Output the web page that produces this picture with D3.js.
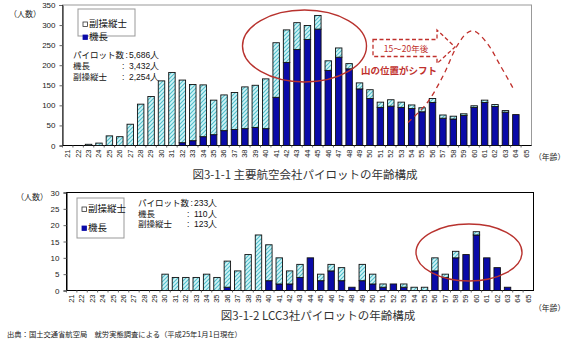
<!DOCTYPE html>
<html>
<head>
<meta charset="utf-8">
<script src="https://cdn.jsdelivr.net/npm/d3@7"></script>
<style>
    body { margin: 0; background: #fff; }
    svg { display: block; font-family: "Noto Sans CJK JP", "Liberation Sans", sans-serif; }
</style>
</head>
<body>
<svg id="chart" width="567" height="351"></svg>
<script>
// 年齢 (21〜65歳)
const ages = d3.range(21, 66);

// 図3-1-1 主要航空会社
const majorCaptain = [0, 0, 0, 0, 0, 0, 0, 0, 0, 0, 0, 7, 12, 22, 27, 37, 40, 42, 45, 42,
    120, 207, 239, 264, 290, 187, 220, 191, 141, 117, 95, 98, 95, 92, 84, 107, 68, 66, 75, 95,
    107, 97, 83, 77, 0];
const majorCopilot = [0, 0, 3, 6, 24, 22, 53, 103, 122, 161, 182, 156, 140, 129, 86, 89, 92, 104, 105, 124,
    136, 81, 67, 35, 34, 24, 23, 13, 15, 22, 13, 16, 13, 9, 10, 10, 8, 7, 4, 4,
    6, 5, 4, 0, 0];

// 図3-1-2 LCC3社
const lccCaptain = [0, 0, 0, 0, 0, 0, 0, 0, 0, 0, 0, 0, 0, 0, 0, 1, 0, 0, 0, 3,
    2, 2, 4, 10, 3, 6, 3, 1, 3, 2, 1, 2, 1, 0, 0, 6, 4, 10, 11, 17,
    10, 7, 1, 0, 0];
const lccCopilot = [0, 0, 0, 0, 0, 0, 0, 0, 0, 5, 4, 4, 4, 5, 4, 8, 6, 11, 17, 11,
    8, 4, 4, 0, 2, 2, 4, 0, 5, 3, 1, 0, 1, 1, 1, 4, 1, 2, 0, 1,
    0, 0, 0, 0, 0];

const majorStats = [["パイロット数", "5,686人"], ["機長", "3,432人"], ["副操縦士", "2,254人"]];
const lccStats = [["パイロット数", "233人"], ["機長", "110人"], ["副操縦士", "123人"]];
const legendNames = ["副操縦士", "機長"];

const svg = d3.select("#chart");
const captainColor = "#0a0aa8";
const red = "#c0302c";

// 副操縦士のハッチング
const defs = svg.append("defs");
const pat = defs.append("pattern")
    .attr("id", "hatch")
    .attr("patternUnits", "userSpaceOnUse")
    .attr("width", 4)
    .attr("height", 4);
pat.append("rect").attr("width", 4).attr("height", 4).attr("fill", "#d2f4f7");
pat.append("path")
    .attr("d", "M-1,1 L1,-1 M0,4 L4,0 M3,5 L5,3")
    .attr("stroke", "#4fbfcc")
    .attr("stroke-width", 1.1);

function drawChart(cfg) {
    const x = d3.scaleBand().domain(ages).range([cfg.left, cfg.right]).paddingInner(0.38).paddingOuter(0.19);
    const y = d3.scaleLinear().domain([0, cfg.ymax]).range([cfg.bottom, cfg.top]);
    const g = svg.append("g");

    // 枠
    g.append("rect")
        .attr("x", cfg.left).attr("y", cfg.top)
        .attr("width", cfg.right - cfg.left).attr("height", cfg.bottom - cfg.top)
        .attr("fill", "none").attr("stroke", cfg.frame).attr("stroke-width", 1);

    // 縦軸
    const yAxis = g.append("g")
        .attr("transform", "translate(" + cfg.left + ",0)")
        .call(d3.axisLeft(y).tickValues(d3.range(0, cfg.ymax + 1, cfg.step)).tickSize(3).tickPadding(4));
    yAxis.select(".domain").attr("stroke", "#000");
    yAxis.selectAll(".tick line").attr("stroke", "#666");
    yAxis.selectAll("text").attr("font-size", 8).attr("fill", "#222")
        .attr("font-family", "Liberation Sans, Arial, sans-serif");

    // 横軸
    const xAxis = g.append("g")
        .attr("transform", "translate(0," + cfg.bottom + ")")
        .call(d3.axisBottom(x).tickSize(0).tickPadding(0));
    xAxis.select(".domain").remove();
    xAxis.selectAll("text")
        .attr("font-size", 7.5).attr("fill", "#222")
        .attr("font-family", "Liberation Sans, Arial, sans-serif")
        .attr("text-anchor", "end")
        .attr("dy", "0.32em")
        .attr("transform", "translate(0,4) rotate(-90)")
        .attr("x", 0).attr("y", 0);
    g.append("line")
        .attr("x1", cfg.left).attr("x2", cfg.right)
        .attr("y1", cfg.bottom).attr("y2", cfg.bottom)
        .attr("stroke", "#000");
    g.selectAll(".xtick")
        .data(ages)
        .enter()
        .append("line")
        .attr("class", "xtick")
        .attr("x1", (d) => x(d) - x.step() * x.paddingInner() / 2)
        .attr("x2", (d) => x(d) - x.step() * x.paddingInner() / 2)
        .attr("y1", cfg.bottom).attr("y2", cfg.bottom + 2)
        .attr("stroke", "#666");

    // 積み上げ棒
    const rows = ages.map((a, i) => ({age: a, 機長: cfg.captain[i], 副操縦士: cfg.copilot[i]}));
    const stacked = d3.stack().keys(["機長", "副操縦士"])(rows);
    g.append("g")
        .selectAll("g")
        .data(stacked)
        .enter()
        .append("g")
        .attr("fill", (d) => d.key === "機長" ? captainColor : "url(#hatch)")
        .selectAll("rect")
        .data((d) => d.filter((v) => v[1] - v[0] > 0))
        .enter()
        .append("rect")
        .attr("x", (d) => x(d.data.age))
        .attr("width", x.bandwidth())
        .attr("y", (d) => y(d[1]))
        .attr("height", (d) => y(d[0]) - y(d[1]))
        .attr("stroke", "#111")
        .attr("stroke-width", 0.9);

    // 軸ラベル
    svg.append("text")
        .attr("x", cfg.yLabel[0]).attr("y", cfg.yLabel[1])
        .attr("font-size", 8).attr("fill", "#222")
        .text("（人数）");
    svg.append("text")
        .attr("x", cfg.xLabel[0]).attr("y", cfg.xLabel[1])
        .attr("font-size", 7.8).attr("fill", "#222")
        .text("（年齢）");

    // 凡例
    const lg = svg.append("g").attr("transform", "translate(" + cfg.legend[0] + "," + cfg.legend[1] + ")");
    lg.append("rect")
        .attr("width", cfg.legend[2]).attr("height", cfg.legend[3])
        .attr("fill", "#fff").attr("stroke", "#999");
    legendNames.forEach((name, i) => {
        const ly = cfg.legendRows[i];
        lg.append("rect")
            .attr("x", 5).attr("y", ly - 5)
            .attr("width", 4.5).attr("height", 4.5)
            .attr("fill", i === 0 ? "#fff" : captainColor)
            .attr("stroke", i === 0 ? "#333" : captainColor)
            .attr("stroke-width", 0.8);
        lg.append("text")
            .attr("x", 11).attr("y", ly)
            .attr("font-size", 9.5).attr("fill", "#111")
            .text(name);
    });

    // 人数
    const st = svg.append("g").attr("font-size", 8.5).attr("fill", "#111");
    cfg.stats.forEach((s, i) => {
        const sy = cfg.statsPos[1] + i * cfg.statsGap;
        st.append("text").attr("x", cfg.statsPos[0]).attr("y", sy).text(s[0]);
        st.append("text").attr("x", cfg.statsPos[2] - (i === 0 ? 3.5 : 7)).attr("y", sy)
            .attr("font-family", "Liberation Sans, Arial, sans-serif").text(":");
        st.append("text").attr("x", cfg.statsPos[2]).attr("y", sy)
            .attr("font-family", "Liberation Sans, Arial, sans-serif").text(s[1]);
    });

    // タイトル
    svg.append("text")
        .attr("x", cfg.title[0]).attr("y", cfg.title[1])
        .attr("text-anchor", "middle")
        .attr("font-size", 11.5).attr("fill", "#333")
        .text(cfg.title[2]);

    // 山の部分の楕円
    svg.append("ellipse")
        .attr("cx", cfg.ellipse[0]).attr("cy", cfg.ellipse[1])
        .attr("rx", cfg.ellipse[2]).attr("ry", cfg.ellipse[3])
        .attr("fill", "none").attr("stroke", "#b8322e").attr("stroke-width", 1.4);
}

drawChart({
    left: 62.5, right: 531.5, top: 5, bottom: 145.5,
    ymax: 350, step: 50, frame: "#999",
    captain: majorCaptain, copilot: majorCopilot,
    yLabel: [9, 17], xLabel: [534, 160],
    legend: [78, 9, 57, 27], legendRows: [18, 31],
    stats: majorStats, statsPos: [73, 58, 129], statsGap: 11,
    title: [305, 179, "図3-1-1 主要航空会社パイロットの年齢構成"],
    ellipse: [304.5, 46, 62, 36]
});

drawChart({
    left: 66.5, right: 533.5, top: 192.5, bottom: 290.5,
    ymax: 30, step: 5, frame: "#000",
    captain: lccCaptain, copilot: lccCopilot,
    yLabel: [16, 200], xLabel: [534, 311],
    legend: [77, 198, 47, 40], legendRows: [14, 33],
    stats: lccStats, statsPos: [138, 206, 194], statsGap: 10.5,
    title: [318, 320, "図3-1-2 LCC3社パイロットの年齢構成"],
    ellipse: [469, 252.5, 53, 28.5]
});

// 15〜20年後のシフト表示
const ann = svg.append("g");
ann.append("path")
    .attr("d", "M373,39.5 L437,39.5 L437,30 L455,47 L437,63.5 L437,56.5 L373,56.5 Z")
    .attr("fill", "none").attr("stroke", red).attr("stroke-width", 1.3)
    .attr("stroke-dasharray", "4,2.5");
ann.append("text")
    .attr("x", 406).attr("y", 51.5).attr("text-anchor", "middle")
    .attr("font-size", 8.5).attr("fill", red)
    .text("15～20年後");
ann.append("text")
    .attr("x", 399).attr("y", 74).attr("text-anchor", "middle")
    .attr("font-size", 9.5).attr("font-weight", "bold").attr("fill", red)
    .text("山の位置がシフト");
const shift = [[408, 122.5], [427, 103], [443, 76], [457, 46], [467, 33], [474, 31], [487, 43], [500, 65], [513, 88]];
ann.append("path")
    .attr("d", d3.line().curve(d3.curveCatmullRom)(shift))
    .attr("fill", "none").attr("stroke", red).attr("stroke-width", 1.3)
    .attr("stroke-dasharray", "5,4");

// 出典
svg.append("text")
    .attr("x", 7).attr("y", 337)
    .attr("font-size", 7.3).attr("fill", "#222")
    .text("出典：国土交通省航空局　就労実態調査による（平成25年1月1日現在）");
</script>
</body>
</html>
